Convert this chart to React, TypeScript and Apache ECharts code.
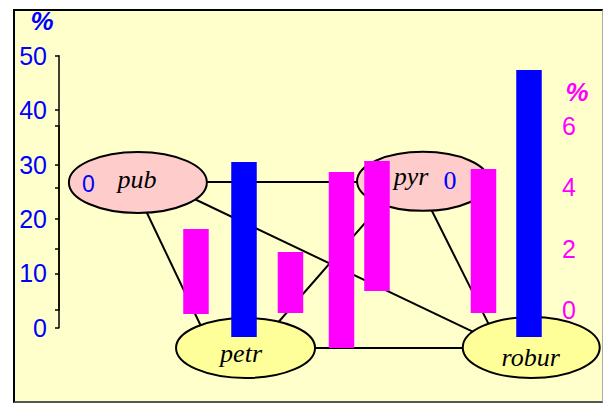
import React, { useEffect, useRef } from "react";
import * as echarts from "echarts";

// Left axis (blue, %) and right axis (magenta, %)
const leftMin = 0;
const leftMax = 50;
const leftStep = 10;
const rightMin = 0;
const rightMax = 6;
const rightStep = 2;

// Diagram nodes (x: relative position 0-100 across the plot, y: left-axis units)
const nodeNames = ["pub", "pyr", "petr", "robur"];
const nodeX = [14.8, 68.3, 35.0, 88.6];
const nodeY = [26.7, 26.9, -3.73, -3.64];
const nodeCounts = ["0", "0", "", ""];

// Edges between nodes (endpoints in the same units)
const edgeX1 = [14.8, 35.0, 14.9, 23.64, 40.53, 69.23];
const edgeY1 = [26.8, -3.73, 24.39, 24.49, 0.31, 22.92];
const edgeX2 = [68.3, 88.6, 27.43, 78.99, 61.16, 81.43];
const edgeY2 = [26.8, -3.73, -1.34, -1.36, 23.46, -0.96];

// Floating bars on the left (blue) axis
const blueX = [34.71, 88.18];
const blueLow = [-1.71, -1.71];
const blueHigh = [30.46, 47.37];

// Floating bars on the right (magenta) axis
const magentaX = [25.7, 43.43, 53.0, 59.66, 79.64];
const magentaLow = [-0.13, -0.1, -1.24, 0.62, -0.1];
const magentaHigh = [2.64, 1.89, 4.5, 4.86, 4.6];

const BLUE = "#0000FF";
const MAGENTA = "#FF00FF";
const SANS = '"Liberation Sans", Arial, sans-serif';
const SERIF = '"Liberation Serif", "Times New Roman", serif';

const nodeStyle: Record<string, any> = {
  pub: { fill: "#FFCCCC", rx: 69, ry: 30.5, nameDx: -1, nameDy: -2.5, countDx: -49.5, countDy: 1.5, countFont: `23px ${SANS}` },
  pyr: { fill: "#FFCCCC", rx: 66, ry: 29.5, nameDx: -12, nameDy: -4.5, countDx: 27, countDy: -0.5, countFont: `26px ${SERIF}` },
  petr: { fill: "#FFFF99", rx: 69.5, ry: 30, nameDx: -4.5, nameDy: 6, countDx: 0, countDy: 0, countFont: `26px ${SERIF}` },
  robur: { fill: "#FFFF99", rx: 68.5, ry: 30.5, nameDx: -0.5, nameDy: 9.5, countDx: 0, countDy: 0, countFont: `26px ${SERIF}` },
};

const BAR_W = 25.5;

function barRender(color: string) {
  return (params: any, api: any) => {
    const x = api.value(0);
    const top = api.coord([x, api.value(2)]);
    const bot = api.coord([x, api.value(1)]);
    return {
      type: "rect",
      shape: { x: top[0] - BAR_W / 2, y: top[1], width: BAR_W, height: bot[1] - top[1] },
      style: { fill: color },
    };
  };
}

export default function App() {
  const ref = useRef<HTMLDivElement>(null);

  useEffect(() => {
    if (!ref.current) return;
    const chart = echarts.init(ref.current, undefined, { renderer: "svg" });

    const axisLine = { show: true, lineStyle: { color: "#000", width: 1.5 } };

    const option: any = {
      animation: false,
      backgroundColor: "transparent",
      graphic: [
        {
          type: "text",
          x: 42,
          y: 21,
          style: { text: "%", fill: BLUE, font: `italic bold 26px ${SANS}`, align: "center", verticalAlign: "middle" },
        },
        {
          type: "text",
          x: 577,
          y: 92,
          style: { text: "%", fill: MAGENTA, font: `italic bold 26px ${SANS}`, align: "center", verticalAlign: "middle" },
        },
      ],
      grid: [
        { left: 59, right: 11, top: 55.7, bottom: 75.3 },
        { left: 59, right: 11, top: 126, bottom: 93 },
      ],
      xAxis: [
        { gridIndex: 0, type: "value", min: 0, max: 100, show: false },
        { gridIndex: 1, type: "value", min: 0, max: 100, show: false },
      ],
      yAxis: [
        {
          gridIndex: 0,
          type: "value",
          position: "left",
          min: leftMin,
          max: leftMax,
          interval: leftStep,
          axisLine,
          axisTick: { show: true, length: 4, lineStyle: { color: "#000", width: 1.5 } },
          minorTick: { show: false },
          axisLabel: { color: BLUE, fontSize: 25, fontFamily: SANS, margin: 12 },
          splitLine: { show: false },
        },
        {
          gridIndex: 1,
          type: "value",
          position: "right",
          min: rightMin,
          max: rightMax,
          interval: rightStep,
          axisLine,
          axisTick: { show: true, inside: true, length: 4, lineStyle: { color: "#000", width: 1.5 } },
          minorTick: { show: false },
          axisLabel: { inside: true, color: MAGENTA, fontSize: 25, fontFamily: SANS, margin: 16 },
          splitLine: { show: false },
        },
      ],
      series: [
        {
          type: "lines",
          coordinateSystem: "cartesian2d",
          xAxisIndex: 0,
          yAxisIndex: 0,
          clip: false,
          silent: true,
          z: 2,
          lineStyle: { color: "#000", width: 2, opacity: 1, curveness: 0 },
          data: edgeX1.map((x, i) => ({
            coords: [
              [x, edgeY1[i]],
              [edgeX2[i], edgeY2[i]],
            ],
          })),
        },
        {
          type: "custom",
          xAxisIndex: 0,
          yAxisIndex: 0,
          clip: false,
          silent: true,
          z: 3,
          data: nodeX.map((x, i) => [x, nodeY[i]]),
          renderItem: (params: any, api: any) => {
            const i = params.dataIndex;
            const name = nodeNames[i];
            const st = nodeStyle[name];
            const c = api.coord([api.value(0), api.value(1)]);
            const children: any[] = [
              {
                type: "ellipse",
                shape: { cx: c[0], cy: c[1], rx: st.rx, ry: st.ry },
                style: { fill: st.fill, stroke: "#000", lineWidth: 2 },
              },
              {
                type: "text",
                x: c[0] + st.nameDx,
                y: c[1] + st.nameDy,
                style: { text: name, fill: "#000", font: `italic 26px ${SERIF}`, align: "center", verticalAlign: "middle" },
              },
            ];
            if (nodeCounts[i]) {
              children.push({
                type: "text",
                x: c[0] + st.countDx,
                y: c[1] + st.countDy,
                style: { text: nodeCounts[i], fill: BLUE, font: st.countFont, align: "center", verticalAlign: "middle" },
              });
            }
            return { type: "group", children };
          },
        },
        {
          type: "custom",
          xAxisIndex: 0,
          yAxisIndex: 0,
          clip: false,
          silent: true,
          z: 4,
          data: blueX.map((x, i) => [x, blueLow[i], blueHigh[i]]),
          renderItem: barRender(BLUE),
        },
        {
          type: "custom",
          xAxisIndex: 1,
          yAxisIndex: 1,
          clip: false,
          silent: true,
          z: 4,
          data: magentaX.map((x, i) => [x, magentaLow[i], magentaHigh[i]]),
          renderItem: barRender(MAGENTA),
        },
      ],
    };

    chart.setOption(option);
    return () => chart.dispose();
  }, []);

  return (
    <div style={{ position: "fixed", left: 0, top: 0, width: 603, height: 403, background: "#FFFFFF", overflow: "hidden" }}>
      <div
        style={{
          position: "absolute",
          left: 13,
          top: 9,
          width: 590,
          height: 394,
          boxSizing: "border-box",
          background: "#FFFFCC",
          borderTop: "2px solid #000",
          borderLeft: "2px solid #000",
          borderBottom: "2px solid #555",
          borderRight: "1px solid #AAA",
        }}
      />
      <div ref={ref} style={{ position: "absolute", left: 0, top: 0, width: 603, height: 403 }} />
    </div>
  );
}
